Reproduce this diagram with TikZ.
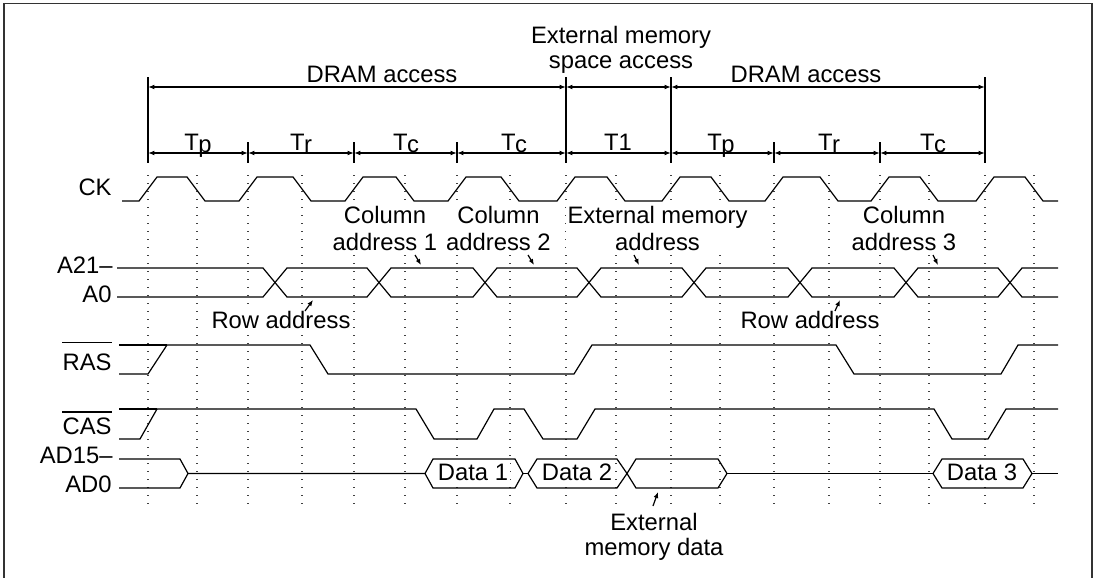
\documentclass[tikz,border=0pt]{standalone}
\usepackage{fontspec}
\setmainfont{Liberation Sans}
\usetikzlibrary{arrows.meta}
\begin{document}
\begin{tikzpicture}[x=0.5pt,y=-0.5pt,
  sig/.style={line width=0.6pt},
  gridline/.style={line width=0.6pt, dash pattern=on 0.6pt off 3.4pt, black!75},
  txt/.style={font=\fontsize{11.9}{13.5}\selectfont, inner sep=1pt, align=center},
  lbl/.style={txt, fill=white},
  signame/.style={font=\fontsize{11.9}{13.5}\selectfont, inner sep=0pt, anchor=base east},
  dim/.style={line width=0.6pt, {Latex[length=3.2pt,width=2.4pt]}-{Latex[length=3.2pt,width=2.4pt]}},
  ptr/.style={line width=0.6pt, -{Latex[length=3pt,width=2.4pt]}},
  tickline/.style={line width=0.6pt},
]
\useasboundingbox (0,0) rectangle (1099,578);
% frame
\draw[line width=0.6pt, black!80] (4,578) -- (4,3.5) -- (1092,3.5) -- (1092,578);

% dotted grid
\foreach \x in {148,197,248,302,354,405,457,510,566,616,671,720,774,829,880,929,985,1034}
  \draw[gridline] (\x,175) -- (\x,507);

% dimension ticks
\foreach \x in {148,566,671,985} \draw[tickline] (\x,77) -- (\x,163);
\foreach \x in {248,354,457,774,880} \draw[tickline] (\x,142) -- (\x,163);

% dimension coordinates
\coordinate (u0) at (148,87);
\coordinate (u4) at (566,87);
\coordinate (u5) at (671,87);
\coordinate (u8) at (985,87);
\foreach \x/\n in {148/0,248/1,354/2,457/3,566/4,671/5,774/6,880/7,985/8}
  \coordinate (b\n) at (\x,153);

\draw[dim] (u0) -- (u4);
\draw[dim] (u4) -- (u5);
\draw[dim] (u5) -- (u8);
\foreach \a/\b in {0/1,1/2,2/3,3/4,4/5,5/6,6/7,7/8}
  \draw[dim] (b\a) -- (b\b);

% top labels
\node[txt, anchor=base] (dram1) at (382,83) {DRAM access};
\node[txt, anchor=north, font=\fontsize{11.9}{12.6}\selectfont] (ext) at (621,23.5) {External memory\\space access};
\node[txt, anchor=base] (dram2) at (806,83) {DRAM access};

\node[txt, anchor=base] (tp1) at (198,150) {T\kern-0.3pt\lower1pt\hbox{p}};
\node[txt, anchor=base] (tr1) at (301,150) {T\kern-0.3pt\lower1pt\hbox{r}};
\node[txt, anchor=base] (tc1) at (406,150) {T\kern-0.3pt\lower1pt\hbox{c}};
\node[txt, anchor=base] (tc2) at (514,150) {T\kern-0.3pt\lower1pt\hbox{c}};
\node[txt, anchor=base] (t1)  at (618,150) {T1};
\node[txt, anchor=base] (tp2) at (721,150) {T\kern-0.3pt\lower1pt\hbox{p}};
\node[txt, anchor=base] (tr2) at (829,150) {T\kern-0.3pt\lower1pt\hbox{r}};
\node[txt, anchor=base] (tc3) at (933,150) {T\kern-0.3pt\lower1pt\hbox{c}};

% CK
\node[signame] (ck) at (112,195) {CK};
\draw[sig] (122,201)
  \foreach \b/\m in {148/196,248/302,354/405,457/510,566/616,671/720,774/829,880/929,985/1034}
  { -- ({\b-9},201) -- ({\b+9},177) -- ({\m-9},177) -- ({\m+9},201) }
  -- (1058,201);

% Address bus
\node[signame] (a21) at (113,273) {A21–};
\node[signame] (a0) at (112,302) {A0};
\draw[sig] (117,268) -- (263,268) -- (287,297) -- (367,297) -- (391,268) -- (473,268) -- (497,297) -- (577,297) -- (601,268) -- (682,268) -- (706,297) -- (788,297) -- (812,268) -- (894,268) -- (918,297) -- (998,297) -- (1022,268) -- (1058,268);
\draw[sig] (117,297) -- (263,297) -- (287,268) -- (367,268) -- (391,297) -- (473,297) -- (497,268) -- (577,268) -- (601,297) -- (682,297) -- (706,268) -- (788,268) -- (812,297) -- (894,297) -- (918,268) -- (998,268) -- (1022,297) -- (1058,297);

% RAS
\node[signame] (rasl) at (112,370) {RAS};
\draw[sig] ([yshift=5.3pt]rasl.north west) -- ([yshift=5.3pt]rasl.north east);
\draw[sig] (119,345) -- (167,345);
\draw[sig] (119,374) -- (148,374) -- (167,345) -- (310,345) -- (328,374) -- (574,374) -- (592,345) -- (836,345) -- (854,374) -- (1001,374) -- (1018,345) -- (1058,345);

% CAS
\node[signame] (casl) at (112,434) {CAS};
\draw[sig] ([yshift=2.5pt]casl.north west) -- ([yshift=2.5pt]casl.north east);
\draw[sig] (119,409) -- (157,409);
\draw[sig] (119,439) -- (140,439) -- (157,409) -- (416,409) -- (434,439) -- (477,439) -- (494,409) -- (524,409) -- (543,439) -- (577,439) -- (595,409) -- (934,409) -- (952,439) -- (988,439) -- (1006,409) -- (1058,409);

% AD bus
\node[signame] (ad15) at (113,463) {AD15–};
\node[signame] (ad0) at (112,492) {AD0};
\draw[sig] (119,459) -- (180,459) -- (188,473.5) -- (425,473.5);
\draw[sig] (119,488) -- (180,488) -- (188,473.5);
\draw[sig] (425,473.5) -- (433,459) -- (515,459) -- (523,473.5) -- (515,488) -- (433,488) -- cycle;
\draw[sig] (523,473.5) -- (528,473.5);
\draw[sig] (528,473.5) -- (537,459) -- (617,459) -- (627,473.5) -- (617,488) -- (537,488) -- cycle;
\draw[sig] (627,473.5) -- (636,459) -- (718,459) -- (727,473.5) -- (718,488) -- (636,488) -- cycle;
\draw[sig] (727,473.5) -- (933,473.5);
\draw[sig] (933,473.5) -- (942,459) -- (1023,459) -- (1032,473.5) -- (1023,488) -- (942,488) -- cycle;
\draw[sig] (1032,473.5) -- (1058,473.5);

\node[lbl, anchor=base] (d1) at (473,480) {Data 1};
\node[lbl, anchor=base] (d2) at (577,480) {Data 2};
\node[lbl, anchor=base] (d3) at (982,480) {Data 3};

% bus labels
\node[lbl, anchor=north] (ca1) at (385,203.5) {Column\\address 1};
\node[lbl, anchor=north] (ca2) at (498.5,203.5) {Column\\address 2};
\node[lbl, anchor=north] (ema) at (657.5,203.5) {External memory\\address};
\node[lbl, anchor=north] (ca3) at (904,203.5) {Column\\address 3};
\node[lbl, anchor=base] (ra1) at (281,328) {Row address};
\node[lbl, anchor=base] (ra2) at (810,328) {Row address};
\node[lbl, anchor=north, font=\fontsize{11.9}{12.6}\selectfont] (emd) at (654,510.5) {External\\memory data};

% pointer arrows
\coordinate (ca1t) at (415,255); \coordinate (ca1h) at (421,265);
\coordinate (ca2t) at (528,255); \coordinate (ca2h) at (534,265);
\coordinate (emat) at (634,255); \coordinate (emah) at (639,265);
\coordinate (ca3t) at (933,255); \coordinate (ca3h) at (938,265);
\coordinate (ra1t) at (305,311); \coordinate (ra1h) at (313,300);
\coordinate (ra2t) at (835,311); \coordinate (ra2h) at (840,300);
\coordinate (emdt) at (653,506); \coordinate (emdh) at (658,492);
\draw[ptr] (ca1t) -- (ca1h);
\draw[ptr] (ca2t) -- (ca2h);
\draw[ptr] (emat) -- (emah);
\draw[ptr] (ca3t) -- (ca3h);
\draw[ptr] (ra1t) -- (ra1h);
\draw[ptr] (ra2t) -- (ra2h);
\draw[ptr] (emdt) -- (emdh);
\end{tikzpicture}
\end{document}
